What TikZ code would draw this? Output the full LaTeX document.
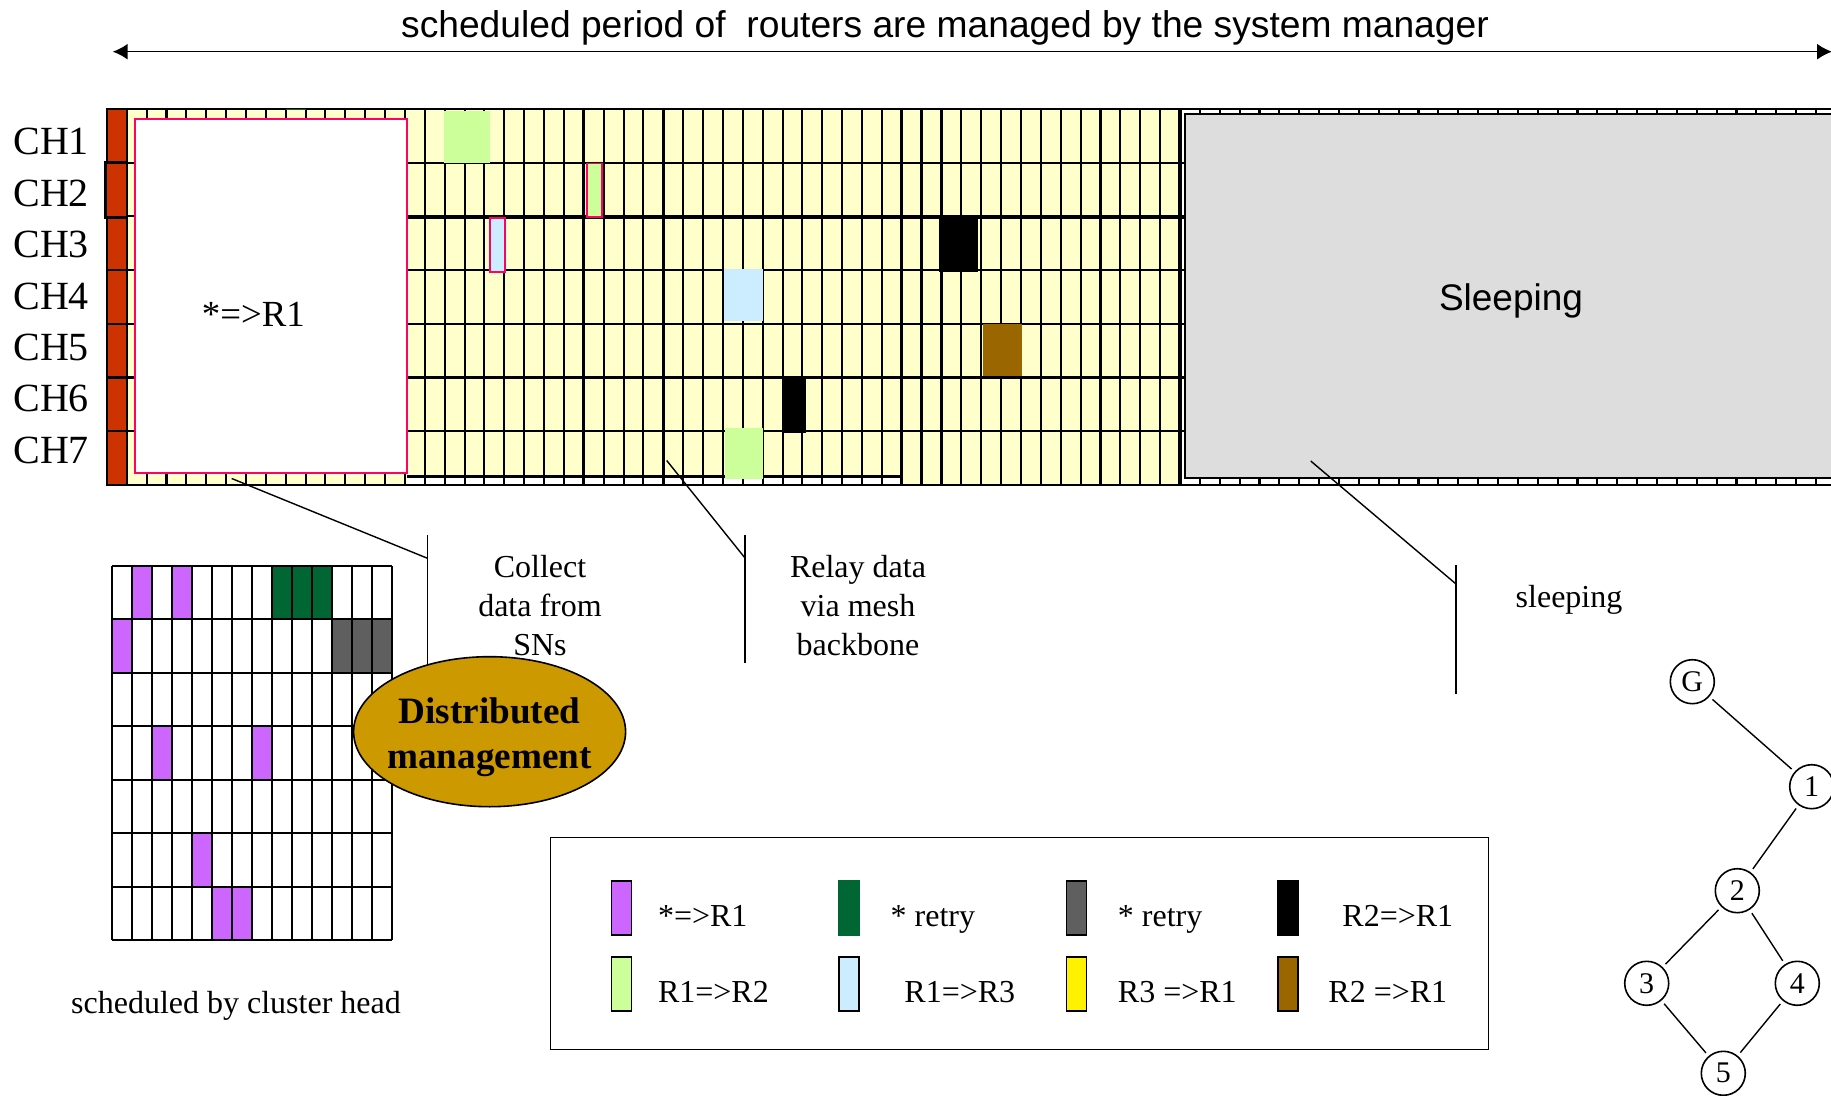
\documentclass[tikz,border=0pt]{standalone}
\usepackage{fontspec}
\setmainfont{Liberation Serif}
\newfontfamily\arialfont{Liberation Sans}
\usetikzlibrary{arrows.meta}
\usetikzlibrary{shapes.geometric}
\definecolor{chred}{HTML}{CC3300}
\definecolor{slotyellow}{HTML}{FFFFCC}
\definecolor{slotpurple}{HTML}{CC66FF}
\definecolor{slotgreen}{HTML}{006633}
\definecolor{slotgray}{HTML}{5F5F5F}
\definecolor{slotlime}{HTML}{CCFF99}
\definecolor{slotblue}{HTML}{CCECFF}
\definecolor{slotbrown}{HTML}{996600}
\definecolor{slotpink}{HTML}{FF0066}
\definecolor{sleepgray}{HTML}{DDDDDD}
\definecolor{mgmtgold}{HTML}{CC9900}
\tikzset{
	pics/legend/.style n args={6}{
		code = {
			\filldraw[fill=#3, draw=#4, line width=0.8pt] (#1, #2) rectangle ++ (20, 54);
			\node[anchor=base west, inner sep=0pt, font=\fontsize{16}{19}\selectfont] (-lbl) at (#6, #2+45.5) {#5};
		}
	}
}
\begin{document}
\begin{tikzpicture}[x=0.5pt, y=-0.5pt,
	gridline/.style={line width=1.05pt},
	thickline/.style={line width=1.6pt},
	callout/.style={line width=0.7pt},
	lbl/.style={font=\fontsize{16}{19.4}\selectfont, inner sep=0pt},
	chlbl/.style={font=\fontsize{20}{24}\selectfont, anchor=base west, inner sep=0pt},
	treenode/.style={draw, circle, line width=0.8pt, minimum size=22pt, inner sep=0pt, font=\fontsize{15}{18}\selectfont}]
	\useasboundingbox (0,0) rectangle (1831,1096);

	% --- period arrow ---
	\node[anchor=base, inner sep=0pt, font={\arialfont\fontsize{18.6}{22}\selectfont}] (title) at (945, 37.5) {scheduled period of~ routers are managed by the system manager};
	\coordinate (periodL) at (112.7, 51.7);
	\coordinate (periodR) at (1832, 51.7);
	\draw[{Latex[length=7.5pt, width=8pt]}-{Latex[length=7.5pt, width=8pt]}, line width=0.8pt] (periodL) -- (periodR);

	% --- channel grid ---
	\fill[slotyellow] (126.7, 109) rectangle (1180, 485);
	\fill[white] (1180, 109) rectangle (1840, 485);
	\fill[white] (407, 476.5) rectangle (900, 484);
	\fill[chred] (107, 109) rectangle (126.7, 485);
	\foreach \k in {0,...,86}
		\draw[gridline] ({126.7+19.874*\k}, 109) -- ++(0, 376);
	\foreach \j in {1,...,6}
		\draw[gridline] (107, {109+53.71*\j}) -- (1840, {109+53.71*\j});
	\foreach \k in {23, 27, 39, 40, 53}
		\draw[thickline] ({126.7+19.874*\k}, 109) -- ++(0, 376);
	\draw[thickline] (407, 217.4) -- (1185, 217.4);
	\draw[gridline] (407, 476.5) -- (900, 476.5);
	\draw[line width=1.1pt] (1840, 109) -- (107, 109) -- (107, 485) -- (1840, 485);
	\filldraw[fill=chred, line width=1.3pt] (105.5, 162.7) rectangle (127, 217.4);
	\draw[slotgreen, line width=0.8pt] (285.7, 109.5) -- (305.6, 109.5);

	\foreach \n in {1,...,7}
		\node[chlbl] (ch\n) at (13, {155+51.4*(\n-1)}) {CH\n};

	% slots used in the backbone
	\fill[slotlime] (444, 111) rectangle (490, 163);
	\fill[slotblue] (724, 269) rectangle (763, 321);
	\fill[black] (782, 379) rectangle (806, 433);
	\fill[slotlime] (725, 428) rectangle (763, 479);
	\fill[black] (939, 218) rectangle (978, 272);
	\fill[slotbrown] (983, 324) rectangle (1022, 376);
	\filldraw[fill=slotlime, draw=slotpink, line width=0.9pt] (587.3, 163.5) rectangle (602.3, 216.7);
	\filldraw[fill=slotblue, draw=slotpink, line width=0.9pt] (490, 218.3) rectangle (505.3, 271.7);

	\filldraw[fill=white, draw=slotpink, line width=0.9pt] (135, 119) rectangle (406.7, 473);
	\node[anchor=base, inner sep=0pt, font=\fontsize{18.4}{22}\selectfont] (allR1) at (253.3, 326.5) {*=>R1};

	\filldraw[fill=sleepgray, line width=0.9pt] (1185, 114) rectangle (1845, 478);
	\node[anchor=base, inner sep=0pt, font={\arialfont\fontsize{18.5}{22}\selectfont}] (sleepLbl) at (1511, 311) {Sleeping};

	% --- callouts ---
	\coordinate (collectA) at (231.7, 478.5);
	\coordinate (collectB) at (427.5, 558.3);
	\coordinate (collectT) at (427.5, 535);
	\coordinate (collectD) at (427.5, 675);
	\draw[callout] (collectA) -- (collectB);
	\draw[callout] (collectT) -- (collectD);
	\coordinate (relayA) at (666.7, 460.5);
	\coordinate (relayB) at (745, 558);
	\coordinate (relayT) at (745, 535);
	\coordinate (relayD) at (745, 663);
	\draw[callout] (relayA) -- (relayB);
	\draw[callout] (relayT) -- (relayD);
	\coordinate (sleepA) at (1310.7, 461);
	\coordinate (sleepB) at (1456, 584);
	\coordinate (sleepT) at (1456, 565);
	\coordinate (sleepD) at (1456, 694);
	\draw[callout] (sleepA) -- (sleepB);
	\draw[callout] (sleepT) -- (sleepD);

	\node[lbl, align=center] (collect) at (540, 605.5) {Collect\\data from\\SNs};
	\node[lbl, align=center] (relay) at (858, 605.5) {Relay data\\via mesh\\backbone};
	\node[lbl, anchor=base] (sleeping) at (1569, 607.5) {sleeping};

	% --- cluster head schedule ---
	\fill[white] (112, 566) rectangle (392, 940);
	\foreach \c/\r/\col in {1/0/slotpurple, 3/0/slotpurple, 8/0/slotgreen, 9/0/slotgreen, 10/0/slotgreen,
			0/1/slotpurple, 11/1/slotgray, 12/1/slotgray, 13/1/slotgray,
			2/3/slotpurple, 7/3/slotpurple, 4/5/slotpurple, 5/6/slotpurple, 6/6/slotpurple}
		\fill[\col] ({112+20*\c}, {566+53.43*\r}) rectangle ++(20, 53.43);
	\foreach \i in {0,...,14}
		\draw[gridline] ({112+20*\i}, 566) -- ++(0, 374);
	\foreach \j in {0,...,7}
		\draw[gridline] (112, {566+53.43*\j}) -- ++(280, 0);
	\node[lbl, anchor=base] (chSched) at (236, 1013) {scheduled by cluster head};

	\node[draw, ellipse, fill=mgmtgold, line width=0.8pt, minimum width=136pt, minimum height=75pt, inner xsep=-4pt, inner ysep=0pt, align=center, font=\fontsize{18.6}{22.6}\selectfont\bfseries] (mgmt) at (489.6, 731.7) {\rule{0pt}{18.6pt}Distributed\\management};

	% --- legend ---
	\draw[line width=0.9pt] (550.5, 837.5) rectangle (1488.5, 1049.5);
	\pic (lg1) {legend={611.6}	{881}	{slotpurple}	{black}		{*=>R1}		{657.6}};
	\pic (lg2) {legend={839}	{881}	{slotgreen}	{slotgreen}	{* retry}	{890.3}};
	\pic (lg3) {legend={1066.6}	{881}	{slotgray}	{black}		{* retry}	{1117.5}};
	\pic (lg4) {legend={1277.7}	{881}	{black}		{black}		{R2=>R1}	{1342}};
	\pic (lg5) {legend={611.6}	{957}	{slotlime}	{black}		{R1=>R2}	{657.6}};
	\pic (lg6) {legend={839}	{957}	{slotblue}	{black}		{R1=>R3}	{904}};
	\pic (lg7) {legend={1066.6}	{957}	{yellow}	{black}		{R3 =>R1}	{1117.5}};
	\pic (lg8) {legend={1277.7}	{957}	{slotbrown}	{black}		{R2 =>R1}	{1328}};

	% --- mesh tree ---
	\node[treenode] (G) at (1692.3, 681.7) {G};
	\node[treenode] (r1) at (1811.7, 786.7) {1};
	\node[treenode] (r2) at (1737.3, 890.7) {2};
	\node[treenode] (r3) at (1646.7, 983.3) {3};
	\node[treenode] (r4) at (1797.3, 983.3) {4};
	\node[treenode] (r5) at (1723.3, 1073.3) {5};
	\draw[callout, shorten <=2pt, shorten >=2pt] (G) -- (r1);
	\draw[callout, shorten <=2pt, shorten >=2pt] (r1) -- (r2);
	\draw[callout, shorten <=2pt, shorten >=2pt] (r2) -- (r3);
	\draw[callout, shorten <=2pt, shorten >=2pt] (r2) -- (r4);
	\draw[callout, shorten <=2pt, shorten >=2pt] (r3) -- (r5);
	\draw[callout, shorten <=2pt, shorten >=2pt] (r4) -- (r5);

\end{tikzpicture}
\end{document}
